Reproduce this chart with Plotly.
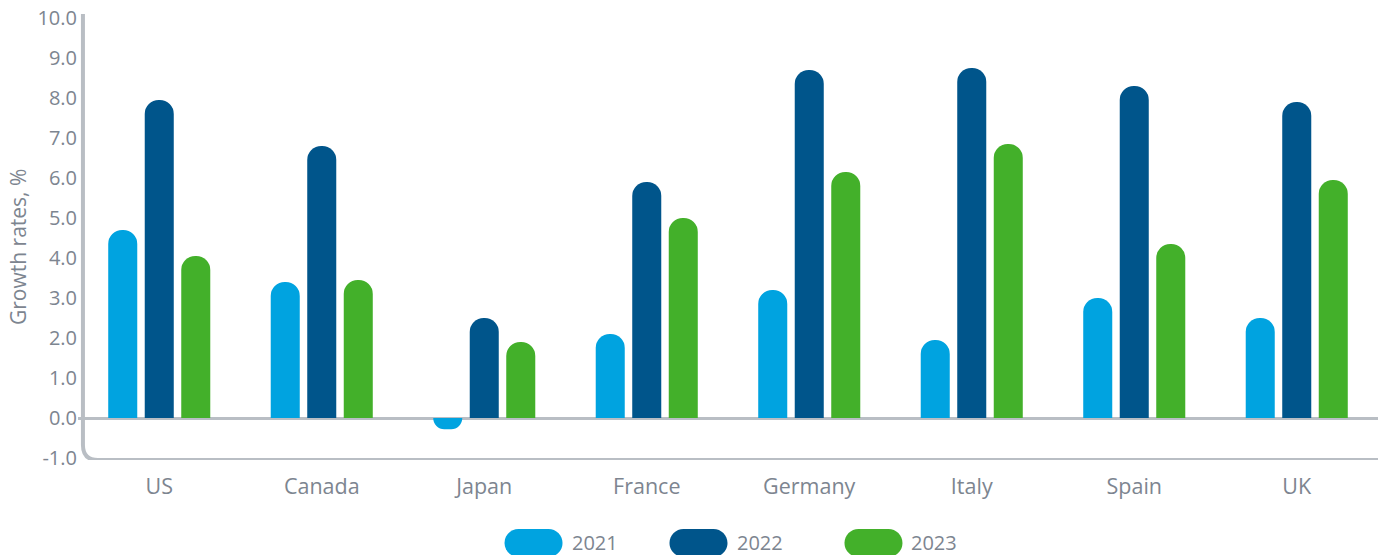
import plotly.graph_objects as go

countries = ["US", "Canada", "Japan", "France", "Germany", "Italy", "Spain", "UK"]
years = ["2021", "2022", "2023"]
growth_2021 = [4.7, 3.4, -0.28, 2.1, 3.2, 1.95, 3.0, 2.5]
growth_2022 = [7.95, 6.8, 2.5, 5.9, 8.7, 8.75, 8.3, 7.9]
growth_2023 = [4.05, 3.45, 1.9, 5.0, 6.15, 6.85, 4.35, 5.95]
series = [growth_2021, growth_2022, growth_2023]
colors = ["#00a3e0", "#00558b", "#43b02a"]
ytick_vals = list(range(-1, 11))
ytick_text = [f"{v:.1f}" for v in ytick_vals]
y_title = "Growth rates, %"

TEXT = "#7d8590"
AXIS = "#b9bec4"
FONT = "Open Sans"

fig = go.Figure()
for name, vals, col in zip(years, series, colors):
    fig.add_trace(go.Bar(x=countries, y=vals, name=name, marker_color=col,
                         marker_line_width=0, showlegend=False))

# axis line with rounded corner (left + bottom)
ax_x = 0.0038
rx, ry = 15 / 1300, 15 / 40
fig.add_shape(type="path", xref="paper", yref="y", layer="below",
              path=f"M {ax_x},10.1 L {ax_x},{-1.05 + ry} Q {ax_x},-1.05 {ax_x + rx},-1.05 L 1,-1.05",
              line=dict(color=AXIS, width=4))

# y-axis title
fig.add_annotation(xref="paper", yref="paper", x=-0.046, y=0.478, text=y_title,
                   textangle=-90, showarrow=False, xanchor="center", yanchor="middle",
                   font=dict(family=FONT, size=21, color=TEXT))

# custom pill legend
pill = ("M -15,-14 L 15,-14 C 22.7,-14 29,-7.7 29,0 C 29,7.7 22.7,14 15,14 "
        "L -15,14 C -22.7,14 -29,7.7 -29,0 C -29,-7.7 -22.7,-14 -15,-14 Z")
pill_x = [0.3504, 0.4773, 0.6119]
text_x = [0.3785, 0.5054, 0.6392]
leg_y = -0.186
for name, col, px, tx in zip(years, colors, pill_x, text_x):
    fig.add_shape(type="path", xref="paper", yref="paper",
                  xsizemode="pixel", ysizemode="pixel", xanchor=px, yanchor=leg_y,
                  path=pill, fillcolor=col, line=dict(width=0))
    fig.add_annotation(xref="paper", yref="paper", x=tx, y=leg_y, text=name,
                       showarrow=False, xanchor="left", yanchor="middle",
                       font=dict(family=FONT, size=20, color=TEXT))

fig.update_layout(
    width=1390, height=555,
    margin=dict(l=78, r=12, t=14, b=95, autoexpand=False),
    paper_bgcolor="white", plot_bgcolor="white",
    barmode="group", bargap=0.326, bargroupgap=0.205, barcornerradius="50%",
    font=dict(family=FONT, size=20, color=TEXT),
    xaxis=dict(showgrid=False, showline=False, ticks="", ticklabelstandoff=11,
               automargin=False,
               tickfont=dict(family=FONT, size=21.5, color=TEXT)),
    yaxis=dict(range=[-1.05, 10.1], tickvals=ytick_vals, ticktext=ytick_text,
               ticklabeloverflow="allow",
               showgrid=False, showline=False, ticks="", automargin=False,
               zeroline=True, zerolinecolor=AXIS, zerolinewidth=2.5,
               tickfont=dict(family=FONT, size=20, color=TEXT)),
)

fig.write_html("out.html", config={"displayModeBar": False},
               post_script="document.body.style.margin='0';")
